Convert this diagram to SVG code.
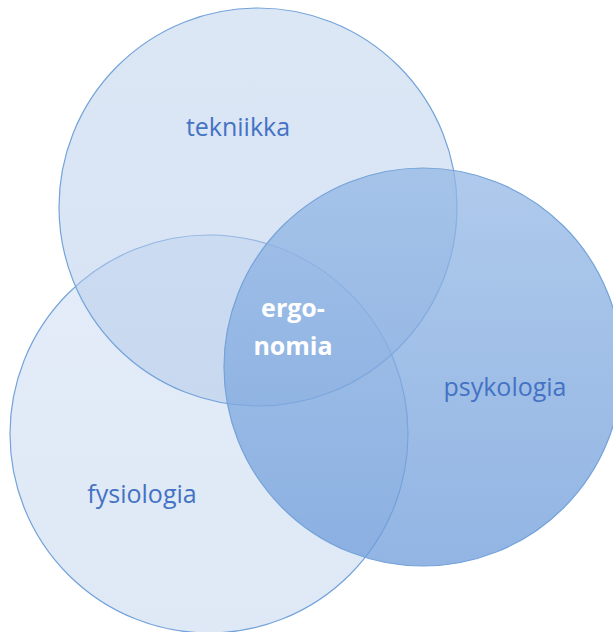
<svg xmlns="http://www.w3.org/2000/svg" width="613" height="632" viewBox="0 0 613 632">
<defs>
<linearGradient id="gTop" x1="0" y1="0" x2="0" y2="1">
<stop offset="0" stop-color="#b9cfec"/>
<stop offset="1" stop-color="#afc6e8"/>
</linearGradient>
<linearGradient id="gLeft" x1="0" y1="0" x2="0" y2="1">
<stop offset="0" stop-color="#c8daf1"/>
<stop offset="1" stop-color="#bed2ed"/>
</linearGradient>
<linearGradient id="gRight" x1="0" y1="0" x2="0" y2="1">
<stop offset="0" stop-color="#94b8e5"/>
<stop offset="1" stop-color="#6e9cda"/>
</linearGradient>
<style>
.c{stroke:#74a3da;stroke-width:1.2}
.t{font-family:"Open Sans","Noto Sans",sans-serif;font-size:25px;fill:#4472c4;text-anchor:middle}
.w{font-family:"Open Sans","Noto Sans",sans-serif;font-size:25px;font-weight:bold;fill:#ffffff;text-anchor:middle}
</style>
</defs>
<rect width="613" height="632" fill="#ffffff"/>
<g id="fysiologia">
<circle class="c" cx="209" cy="434" r="199" fill="url(#gLeft)" fill-opacity="0.5"/>
</g>
<g id="tekniikka">
<circle class="c" cx="258" cy="207" r="199" fill="url(#gTop)" fill-opacity="0.5"/>
</g>
<g id="psykologia">
<circle class="c" cx="423" cy="367" r="199" fill="url(#gRight)" fill-opacity="0.75"/>
</g>
<g id="labels">
<text class="t" x="238" y="136">tekniikka</text>
<text class="t" x="505" y="396">psykologia</text>
<text class="t" x="142" y="503">fysiologia</text>
<text class="w" x="293" y="317">ergo-</text>
<text class="w" x="293" y="355">nomia</text>
</g>
<g id="connectors"/>
</svg>
